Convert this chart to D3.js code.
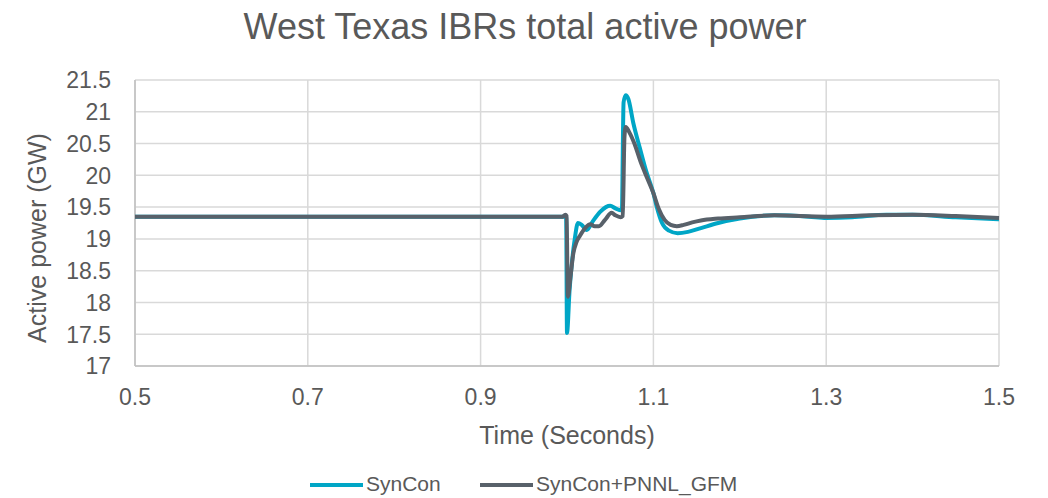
<!DOCTYPE html>
<html>
<head>
<meta charset="utf-8">
<script src="https://cdn.jsdelivr.net/npm/d3@7"></script>
<style>
  body { margin: 0; background: #fff; }
  text { font-family: "Liberation Sans", Arial, sans-serif; fill: #595959; }
</style>
</head>
<body>
<svg id="chart" width="1048" height="498"></svg>
<script>
// chart data
var seriesNames = ["SynCon", "SynCon+PNNL_GFM"]
var seriesColors = ["#00a6c6", "#58616a"]

var synconTime = [0.5, 0.99, 0.999, 1.0, 1.003, 1.0055, 1.009, 1.0127, 1.017, 1.0228, 1.03, 1.038, 1.045, 1.05, 1.056, 1.0615, 1.0635, 1.0655, 1.068, 1.071, 1.0768, 1.0845, 1.092, 1.1, 1.104, 1.11, 1.118, 1.128, 1.14, 1.155, 1.175, 1.2, 1.24, 1.28, 1.3, 1.33, 1.37, 1.4, 1.45, 1.5]
var synconPower = [19.35, 19.35, 19.35, 17.52, 18.2, 18.6, 19.0, 19.25, 19.22, 19.14, 19.28, 19.42, 19.5, 19.52, 19.48, 19.45, 19.48, 21.15, 21.26, 21.2, 20.82, 20.42, 20.05, 19.72, 19.5, 19.25, 19.13, 19.09, 19.11, 19.17, 19.25, 19.32, 19.37, 19.35, 19.33, 19.34, 19.38, 19.38, 19.34, 19.31]

var gfmTime = [0.5, 0.995, 0.998, 0.9995, 1.001, 1.004, 1.0073, 1.011, 1.015, 1.021, 1.027, 1.032, 1.037, 1.044, 1.0517, 1.056, 1.062, 1.0645, 1.0665, 1.068, 1.072, 1.078, 1.085, 1.093, 1.1, 1.106, 1.113, 1.12, 1.127, 1.135, 1.145, 1.155, 1.175, 1.2, 1.24, 1.3, 1.35, 1.4, 1.45, 1.5]
var gfmPower = [19.35, 19.35, 19.38, 19.36, 18.09, 18.4, 18.77, 18.95, 19.05, 19.17, 19.23, 19.2, 19.2, 19.3, 19.41, 19.37, 19.34, 19.36, 20.6, 20.76, 20.68, 20.5, 20.22, 19.95, 19.72, 19.48, 19.3, 19.22, 19.2, 19.22, 19.26, 19.29, 19.32, 19.34, 19.37, 19.35, 19.37, 19.38, 19.36, 19.33]

var xTicks = [0.5, 0.7, 0.9, 1.1, 1.3, 1.5]
var yTicks = [17, 17.5, 18, 18.5, 19, 19.5, 20, 20.5, 21, 21.5]

var svg = d3.select("#chart")
var plotLeft = 135, plotRight = 999, plotTop = 80, plotBottom = 366

var x = d3.scaleLinear().domain([0.5, 1.5]).range([plotLeft, plotRight])
var y = d3.scaleLinear().domain([17, 21.5]).range([plotBottom, plotTop])

// gridlines
svg.append("g").selectAll("line").data(yTicks).enter().append("line")
  .attr("x1", plotLeft).attr("x2", plotRight)
  .attr("y1", d => y(d)).attr("y2", d => y(d))
  .attr("stroke", "#d9d9d9").attr("stroke-width", 1.5)
svg.append("g").selectAll("line").data(xTicks).enter().append("line")
  .attr("x1", d => x(d)).attr("x2", d => x(d))
  .attr("y1", plotTop).attr("y2", plotBottom)
  .attr("stroke", "#d9d9d9").attr("stroke-width", 1.5)

// axes lines
svg.append("line").attr("x1", plotLeft).attr("x2", plotRight).attr("y1", plotBottom).attr("y2", plotBottom)
  .attr("stroke", "#bfbfbf").attr("stroke-width", 1.5)
svg.append("line").attr("x1", plotLeft).attr("x2", plotLeft).attr("y1", plotTop).attr("y2", plotBottom)
  .attr("stroke", "#bfbfbf").attr("stroke-width", 1.5)

// tick labels
svg.append("g").selectAll("text").data(yTicks).enter().append("text")
  .attr("x", 111).attr("y", d => y(d)).attr("dy", "0.36em")
  .attr("text-anchor", "end").attr("font-size", 23)
  .text(d => d)
svg.append("g").selectAll("text").data(xTicks).enter().append("text")
  .attr("x", d => x(d)).attr("y", 405)
  .attr("text-anchor", "middle").attr("font-size", 23)
  .text(d => d.toFixed(1))

// titles
svg.append("text").attr("x", 525).attr("y", 39).attr("text-anchor", "middle")
  .attr("font-size", 36).text("West Texas IBRs total active power")
svg.append("text").attr("x", 567).attr("y", 444).attr("text-anchor", "middle")
  .attr("font-size", 25).text("Time (Seconds)")
svg.append("text").attr("transform", "translate(46,238) rotate(-90)").attr("text-anchor", "middle")
  .attr("font-size", 25).text("Active power (GW)")

// lines
var line = d3.line().x(d => x(d[0])).y(d => y(d[1])).curve(d3.curveMonotoneX)
var series = [d3.zip(synconTime, synconPower), d3.zip(gfmTime, gfmPower)]
series.forEach(function(s, i){
  svg.append("path").datum(s)
    .attr("d", line)
    .attr("fill", "none")
    .attr("stroke", seriesColors[i])
    .attr("stroke-width", 4)
    .attr("stroke-linejoin", "round")
})

// legend
var legendX = [310, 480]
seriesNames.forEach(function(name, i){
  svg.append("line").attr("x1", legendX[i]).attr("x2", legendX[i] + 53)
    .attr("y1", 485).attr("y2", 485)
    .attr("stroke", seriesColors[i]).attr("stroke-width", 4)
  svg.append("text").attr("x", legendX[i] + 56).attr("y", 483).attr("dy", "0.36em")
    .attr("font-size", 21).text(name)
})
</script>
</body>
</html>
